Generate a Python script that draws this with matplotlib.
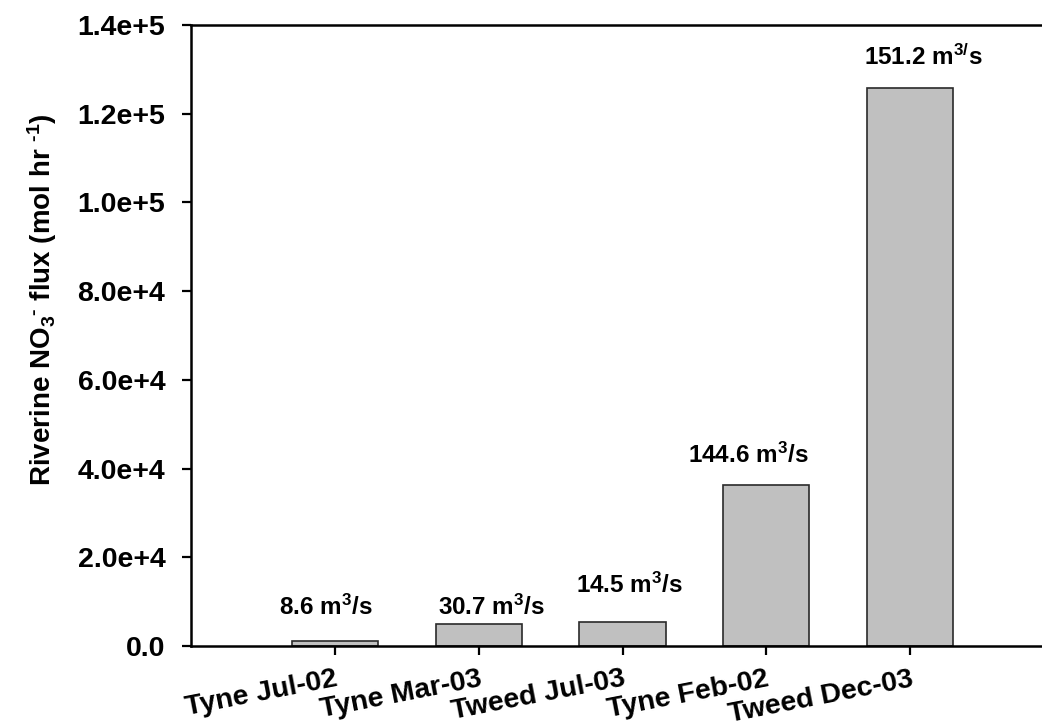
import matplotlib
matplotlib.use("Agg")
import matplotlib.pyplot as plt
import numpy as np

# Riverine nitrate flux for each sampling campaign
campaigns = ["Tyne Jul-02", "Tyne Mar-03", "Tweed Jul-03", "Tyne Feb-02", "Tweed Dec-03"]
flux = [1200, 5000, 5300, 36300, 125700]          # mol hr^-1
discharge = ["8.6 m$^3$/s", "30.7 m$^3$/s", "14.5 m$^3$/s",
             "144.6 m$^3$/s", "151.2 m$^{3/}$s"]  # river discharge
y_ticks = [0, 20000, 40000, 60000, 80000, 100000, 120000, 140000]
y_tick_labels = ["0.0", "2.0e+4", "4.0e+4", "6.0e+4", "8.0e+4",
                 "1.0e+5", "1.2e+5", "1.4e+5"]

# annotation anchors (x shift from bar centre, y in data units)
label_dx = [-0.06, 0.09, 0.05, -0.125, 0.09]
label_y = [7000, 7000, 11900, 41200, 131000]

plt.rcParams["font.family"] = ["Liberation Sans", "DejaVu Sans"]
plt.rcParams["font.weight"] = "bold"
plt.rcParams["mathtext.default"] = "regular"

fig = plt.figure(figsize=(10.42, 7.26), dpi=100)
ax = fig.add_axes([191 / 1042, 80 / 726, 863 / 1042, 621 / 726])

x = np.arange(len(campaigns))
ax.bar(x, flux, width=0.6, color="#c0c0c0", edgecolor="#2a2a2a", linewidth=1.2, zorder=2)

for xi, dx, yl, txt in zip(x, label_dx, label_y, discharge):
    ax.text(xi + dx, yl, txt, ha="center", va="baseline", fontsize=17.5,
            fontweight="bold")

ax.set_xlim(-1, 5)
ax.set_ylim(0, 140000)
ax.set_yticks(y_ticks)
ax.set_yticklabels(y_tick_labels, fontsize=20.5, fontweight="bold")
ax.set_xticks(x)
ax.set_xticklabels(campaigns, fontsize=20.5, fontweight="bold", rotation=11,
                   ha="right", va="top", rotation_mode="anchor")

for side in ["left", "bottom", "top", "right"]:
    ax.spines[side].set_linewidth(1.8)
    ax.spines[side].set_color("black")
ax.tick_params(axis="both", direction="out", length=6.5, width=1.6, color="black")
ax.tick_params(axis="y", pad=12)
ax.tick_params(axis="x", pad=8)

fig.text(42 / 1042, 1 - 300 / 726,
         "Riverine NO$_3$$^{\u2010}$ flux (mol hr $^{\u20101}$)",
         rotation=90, ha="center", va="center", fontsize=20, fontweight="bold")

fig.savefig("out.png", dpi=100)
